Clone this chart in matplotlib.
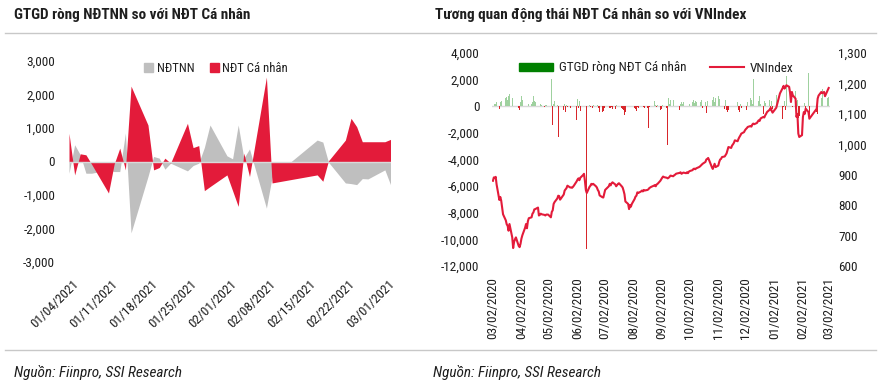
import matplotlib
matplotlib.use('Agg')
import matplotlib.pyplot as plt
import matplotlib.dates as mdates
import matplotlib.transforms as mtransforms
from matplotlib.patches import Patch
from matplotlib.lines import Line2D
from matplotlib.ticker import FuncFormatter
import pandas as pd

plt.rcParams['font.family'] = ['Roboto Condensed', 'Liberation Sans', 'DejaVu Sans']

# ---- left chart: net trading value, foreign vs individual investors (bn VND)
days_2021 = ['2021-01-04', '2021-01-05', '2021-01-06', '2021-01-07', '2021-01-08',
             '2021-01-11', '2021-01-12', '2021-01-13', '2021-01-14', '2021-01-15',
             '2021-01-18', '2021-01-19', '2021-01-20', '2021-01-21', '2021-01-22',
             '2021-01-25', '2021-01-26', '2021-01-27', '2021-01-28', '2021-01-29',
             '2021-02-01', '2021-02-02', '2021-02-03', '2021-02-04', '2021-02-05',
             '2021-02-08', '2021-02-09', '2021-02-17', '2021-02-18', '2021-02-19',
             '2021-02-22', '2021-02-23', '2021-02-24', '2021-02-25', '2021-02-26',
             '2021-03-01', '2021-03-02']
ndtnn = [-350, 500, 200, -350, -350,
         -250, -300, -300, 850, -2130,
         -450, 150, 100, -230, -50,
         -280, -120, -50, 420, 1090,
         170, 80, 1090, 100, 375,
         -1390, -470, 640, 580, -20,
         -640, -660, -690, -510, -520,
         -250, -690]
ndt_canhan = [840, -400, 230, 200, -80,
              -940, -80, 400, -250, 2250,
              1090, -250, -180, 100, -50,
              1140, 415, 475, -870, -750,
              -400, -870, -1340, 250, -450,
              2520, -640, -400, -590, 20,
              640, 1290, 1040, 590, 590,
              590, 660]
vnindex_2021 = [1120, 1132, 1143, 1157, 1167,
                1185, 1192, 1183, 1188, 1194,
                1189, 1170, 1139, 1172, 1161,
                1150, 1090, 1100, 1035, 1024,
                1030, 1090, 1106, 1100, 1117,
                1106, 1084, 1117, 1150, 1160,
                1172, 1168, 1170, 1172, 1158,
                1178, 1185]

# ---- right chart, business days from 03/02/2020 to 12/31/2020
net_canhan_2020 = [
    -300, 250, 150, 200, 300, -200, 350, 400, 300, 450, 600, 700, 500, 750, 900,
    600, 500, 300, 400, 200, -150, -300,                                   # Mar
    300, 800, 500, 200, 150, 250, 100, 150, 200, 300, 750, 400, 350, 400, 300,
    -100, 150, 100, -50, 80, 100, 50,                                      # Apr
    50, -60, 2060, -1430, 150, 375, 100, -2330, 500, 200, -100, -270, 150, -420,
    100, -80, -150, -2450, -200, -100, -150,                               # May
    -1000, 550, -150, 375, -380, -600, -850, -380, -300, -10700, 100, -80, 50,
    -100, 80, -200, -100, 60, -150, -400, -450, -380,                      # Jun
    -100, -150, -250, -570, -100, -150, -80, -200, -220, 100, 375, 450, 150,
    -100, -200, -300, -650, -450, -400, -150, -300, -200, -120,            # Jul
    -100, -200, -380, -80, -150, -150, -80, -100, -80, -100, -120, -1650, -60,
    50, -80, -370, 375, 100, -50, 80, -300,                                # Aug
    -200, 100, 375, 150, -100, -2880, 600, 200, 500, 450, 300, -380, 150, -450,
    -250, 200, 300, 150, 350, 250, 400, 500,                               # Sep
    300, 200, 350, 450, 250, 400, 300, 500, 600, 350, 450, -100, 300, -500,
    400, 250, 600, -150, 500, 700, 300, 650,                               # Oct
    800, 550, 700, 600, 1000, -200, 500, -300, -450, -250, -400, -350, 300,
    -500, -300, 350, -250, -400, 200, -150, -350,                          # Nov
    -200, 150, -250, 300, 600, 500, 200, 2060, -250, 300, 150, 400, 800, 200,
    -600, 400, 250, -100, 300, 500, -250, 400, -200,                       # Dec
]
vnindex_2020 = [
    880, 891, 889, 893, 868, 817, 827, 815, 793, 770, 750, 737, 732, 716, 738,
    694, 659, 679, 688, 694, 666, 662,
    673, 690, 701, 726, 738, 724, 747, 757, 760, 772, 776, 786, 787, 792, 766,
    768, 772, 770, 768, 766, 769, 769,
    769, 760, 778, 783, 804, 810, 822, 831, 830, 818, 822, 835, 848, 852, 856,
    864, 858, 858, 857, 860, 864,
    878, 884, 888, 882, 890, 899, 903, 880, 850, 840, 860, 864, 870, 868, 870,
    862, 858, 850, 845, 832, 826, 825,
    838, 850, 853, 862, 870, 865, 872, 875, 868, 862, 866, 870, 872, 862, 858,
    848, 836, 812, 804, 787, 800, 795, 804,
    820, 828, 831, 842, 840, 845, 848, 845, 850, 848, 850, 852, 856, 858, 860,
    864, 866, 862, 868, 870, 880,
    885, 890, 894, 892, 890, 888, 890, 893, 897, 895, 898, 900, 903, 904, 906,
    908, 903, 905, 907, 905, 908, 905,
    910, 912, 915, 919, 920, 918, 921, 925, 927, 930, 933, 936, 942, 950, 952,
    955, 948, 925, 919, 928, 936, 925,
    930, 942, 950, 952, 958, 960, 965, 970, 980, 991, 988, 996, 1000, 1005,
    1013, 1010, 1018, 1024, 1029, 1035, 1040,
    1046, 1050, 1053, 1057, 1060, 1058, 1065, 1068, 1066, 1070, 1075, 1079,
    1077, 1085, 1090, 1088, 1095, 1100, 1106, 1114, 1120, 1110, 1104,
]

d21 = pd.to_datetime(days_2021)
bar_dates = pd.bdate_range('2020-03-02', periods=len(net_canhan_2020)).append(d21)
bar_vals = net_canhan_2020 + ndt_canhan
vn_dates = pd.bdate_range('2020-03-02', periods=len(vnindex_2020)).append(d21)
vn_vals = vnindex_2020 + vnindex_2021

GRAY = '#bfbfbf'
RED = '#e31b3a'
TXT = '#1e1e1e'
W, H = 881, 387

fig = plt.figure(figsize=(W / 100, H / 100), dpi=100)

def fx(px):
    return px / W

def fy(py):
    return 1 - py / H

# frame lines, titles, sources
for yy in (33, 350):
    fig.add_artist(Line2D([fx(5), fx(876)], [fy(yy), fy(yy)], color='#c8c8c8', lw=1))
fig.text(fx(14), fy(15), 'GTGD ròng NĐTNN so với NĐT Cá nhân', fontsize=11,
         fontweight='bold', color=TXT, va='center')
fig.text(fx(435), fy(15), 'Tương quan động thái NĐT Cá nhân so với VNIndex', fontsize=11,
         fontweight='bold', color=TXT, va='center')
fig.text(fx(14), fy(372), 'Nguồn: Fiinpro, SSI Research', fontsize=11,
         style='italic', color=TXT, va='center')
fig.text(fx(433), fy(372), 'Nguồn: Fiinpro, SSI Research', fontsize=11,
         style='italic', color=TXT, va='center')

# ---------------- left chart
ax = fig.add_axes([fx(69), fy(262), fx(390.5) - fx(69), fy(61) - fy(262)])
ax.fill_between(d21, 0, ndtnn, color=GRAY, lw=0, zorder=1)
ax.fill_between(d21, 0, ndt_canhan, color=RED, lw=0, zorder=2)
ax.axhline(0, color='#d9d9d9', lw=1, zorder=3)
ax.set_xlim(d21[0], d21[-1])
ax.set_ylim(-3000, 3000)
ax.set_yticks(range(-3000, 3001, 1000))
ax.yaxis.set_major_formatter(FuncFormatter(lambda v, p: f'{v:,.0f}'))
ax.set_xticks(pd.date_range('2021-01-04', '2021-03-01', freq='7D'))
ax.xaxis.set_major_formatter(mdates.DateFormatter('%m/%d/%Y'))
ax.tick_params(axis='y', length=0, pad=10, labelsize=9.5, labelcolor=TXT)
ax.tick_params(axis='x', length=0, pad=11, labelsize=9.5, labelcolor=TXT)
shift = mtransforms.ScaledTranslation(3 / 100, 0, fig.dpi_scale_trans)
for lab in ax.get_xticklabels():
    lab.set_rotation(45)
    lab.set_ha('right')
    lab.set_va('top')
    lab.set_rotation_mode('anchor')
    lab.set_transform(lab.get_transform() + shift)
for s in ax.spines.values():
    s.set_visible(False)

fig.legend([Patch(color=GRAY), Patch(color=RED)], ['NĐTNN', 'NĐT Cá nhân'],
           loc='center', bbox_to_anchor=(fx(216), fy(68)), ncol=2, frameon=False,
           fontsize=9.2, handlelength=0.7, handleheight=0.7, handletextpad=0.3,
           columnspacing=1.2, labelcolor=TXT)

# ---------------- right chart
ax1 = fig.add_axes([fx(492), fy(266), fx(829.6) - fx(492), fy(53) - fy(266)])
bar_cols = ['#9fd19f' if v >= 0 else '#d8262b' for v in bar_vals]
ax1.axhline(0, color='#d9d9d9', lw=1, zorder=0)
ax1.bar(bar_dates, bar_vals, width=0.7, color=bar_cols, lw=0, zorder=1)
ax1.set_ylim(-12000, 4000)
ax1.set_yticks(range(-12000, 4001, 2000))
ax1.yaxis.set_major_formatter(FuncFormatter(lambda v, p: f'{v:,.0f}'))
ax1.set_xlim(pd.Timestamp('2020-03-01'), pd.Timestamp('2021-03-03'))
ax1.set_xticks(pd.date_range('2020-03-01', '2021-03-01', freq='MS') + pd.Timedelta(days=1))
ax1.xaxis.set_major_formatter(mdates.DateFormatter('%m/%d/%Y'))
ax1.tick_params(axis='y', length=0, pad=9, labelsize=9.5, labelcolor=TXT)
ax1.tick_params(axis='x', length=0, pad=8, labelsize=9.5, labelcolor=TXT, labelrotation=90)

ax2 = ax1.twinx()
ax2.plot(vn_dates, vn_vals, color=RED, lw=1.5)
ax2.set_ylim(600, 1300)
ax2.set_yticks(range(600, 1301, 100))
ax2.yaxis.set_major_formatter(FuncFormatter(lambda v, p: f'{v:,.0f}'))
ax2.tick_params(axis='y', length=0, pad=6, labelsize=9.5, labelcolor=TXT)
for a in (ax1, ax2):
    for s in a.spines.values():
        s.set_visible(False)

fig.legend([Patch(color='#008000'), Line2D([], [], color=RED, lw=1.5)],
           ['GTGD ròng NĐT Cá nhân', 'VNIndex'],
           loc='center', bbox_to_anchor=(fx(656), fy(68)), ncol=2, frameon=False,
           fontsize=9.5, handlelength=2.6, handleheight=0.5, handletextpad=0.4,
           columnspacing=1.8, labelcolor=TXT)

fig.savefig('out.png', dpi=100)
